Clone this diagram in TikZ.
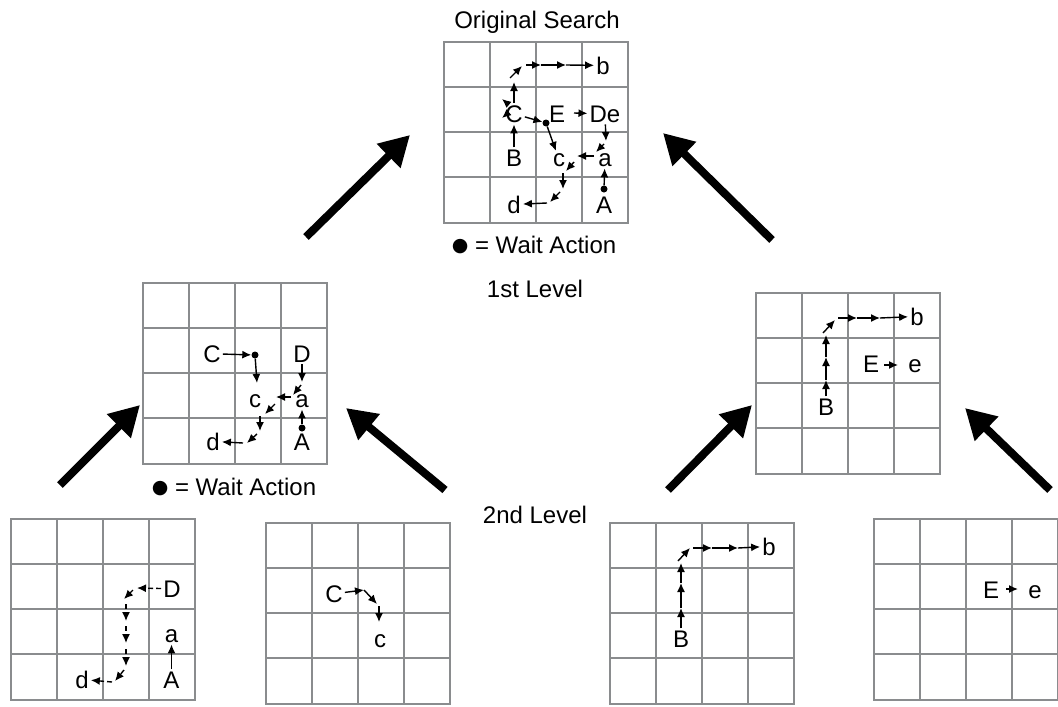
\documentclass[tikz,border=0pt]{standalone}
\usepackage{fontspec}
\setmainfont{Liberation Sans}
\newfontfamily\dotfont{DejaVu Sans}
\usetikzlibrary{arrows.meta}

\begin{document}
\begin{tikzpicture}[x=1pt,y=-1pt]
    \definecolor{grid-color}{HTML}{8A8C8E}
    \tikzstyle{every node}=[font=\fontsize{24}{28}\selectfont, inner sep=2pt]
    \tikzstyle{cell} = [draw=grid-color, line width=2.4pt]
    \tikzstyle{letter} = [anchor=base]
    \tikzstyle{move} = [line width=1.4pt, -{Latex[length=9pt,width=8pt]}]
    \tikzstyle{plan} = [move, dash pattern=on 5pt off 3pt]
    \tikzstyle{wait} = [circle, fill=black, minimum size=7pt, inner sep=0pt]
    \tikzstyle{climb} = [line width=8pt, -{Triangle[length=30pt,width=32pt]}]
    \useasboundingbox (0,0) rectangle (1058,707);

    % the seven 4x4 grids
    \foreach \gx/\gy in {444/42, 143/283, 756/293, 11/519, 266/523, 610/523, 874/519} {
        \draw[cell] (\gx,\gy) rectangle (\gx+184,\gy+181);
        \foreach \k in {1,2,3} {
            \draw[cell] (\gx+46*\k,\gy) -- (\gx+46*\k,\gy+181);
            \draw[cell] (\gx,\gy+45*\k) -- (\gx+184,\gy+45*\k);
        }
    }

    % headings
    \node[letter] (title) at (537,28) {Original Search};
    \node[letter] (twait) at (534,253) {\raisebox{1.5pt}{\dotfont\fontsize{19}{20}\selectfont ●} = Wait Action};
    \node[letter] (first) at (535,297) {1st Level};
    \node[letter] (second) at (535,523) {2nd Level};

    % original search
    \node[letter] (tb) at (603,74) {b};
    \node[letter] (tC) at (514,122) {C};
    \node[letter] (tE) at (557,122) {E};
    \node[letter] (tDe) at (605,122) {De};
    \node[letter] (tB) at (514,166) {B};
    \node[letter] (tc) at (559,166) {c};
    \node[letter] (ta) at (605,166) {a};
    \node[letter] (td) at (514,213) {d};
    \node[letter] (tA) at (604,213) {A};
    \node[wait] (tw1) at (546,123) {};
    \node[wait] (tw2) at (604,189) {};
    \coordinate (t1) at (514,82);
    \coordinate (t2) at (510,78);
    \coordinate (t3) at (522,66);
    \coordinate (t4) at (526,65);
    \coordinate (t5) at (541,65);
    \coordinate (t6) at (566,65);
    \coordinate (t7) at (508,104);
    \coordinate (t8) at (502,99);
    \coordinate (t9) at (508,113);
    \coordinate (t10) at (502,118);
    \coordinate (t11) at (574,113);
    \coordinate (t12) at (606,141);
    \coordinate (t13) at (604,144);
    \coordinate (t14) at (596,152);
    \coordinate (t15) at (594,156);
    \coordinate (t16) at (577,156);
    \coordinate (t17) at (574,162);
    \coordinate (t18) at (566,171);
    \coordinate (t19) at (563,173);
    \coordinate (t20) at (563,189);
    \coordinate (t21) at (560,192);
    \coordinate (t22) at (550,202);
    \coordinate (t23) at (547,203);
    \draw[move] (tB) -- (tC);
    \draw[move] (tC) -- (t1);
    \draw[move] (t2) -- (t3);
    \draw[move] (t4) -- (t5);
    \draw[move] (t5) -- (t6);
    \draw[move] (t6) -- (tb);
    \draw[move] (t7) -- (t8);
    \draw[move] (t9) -- (t10);
    \draw[move] (tC) -- (tw1);
    \draw[move] (tw1) -- (tc);
    \draw[move] (t11) -- (tDe);
    \draw[move] (tDe) -- (t12);
    \draw[move] (t13) -- (t14);
    \draw[move] (t15) -- (t16);
    \draw[move] (t17) -- (t18);
    \draw[move] (t19) -- (t20);
    \draw[move] (t21) -- (t22);
    \draw[move] (t23) -- (td);
    \draw[move] (tw2) -- (ta);

    % 1st level, left
    \node[letter] (mC) at (212,362) {C};
    \node[letter] (mD) at (302,362) {D};
    \node[letter] (mc) at (255,407) {c};
    \node[letter] (ma) at (302,407) {a};
    \node[letter] (md) at (213,450) {d};
    \node[letter] (mA) at (302,450) {A};
    \node[wait] (mw1) at (255,355) {};
    \node[wait] (mw2) at (302,428) {};
    \node[letter] (mwait) at (234,495) {\raisebox{1.5pt}{\dotfont\fontsize{19}{20}\selectfont ●} = Wait Action};
    \coordinate (m1) at (257,383);
    \coordinate (m2) at (302,382);
    \coordinate (m3) at (301,385);
    \coordinate (m4) at (293,395);
    \coordinate (m5) at (291,397);
    \coordinate (m6) at (276,397);
    \coordinate (m7) at (275,404);
    \coordinate (m8) at (265,414);
    \coordinate (m9) at (260,416);
    \coordinate (m10) at (260,431);
    \coordinate (m11) at (257,434);
    \coordinate (m12) at (247,443);
    \coordinate (m13) at (243,443);
    \draw[move] (mC) -- (mw1);
    \draw[move] (mw1) -- (m1);
    \draw[move] (mD) -- (m2);
    \draw[move] (m3) -- (m4);
    \draw[move] (m5) -- (m6);
    \draw[move] (m7) -- (m8);
    \draw[move] (m9) -- (m10);
    \draw[move] (m11) -- (m12);
    \draw[move] (m13) -- (md);
    \draw[move] (mw2) -- (ma);

    % 1st level, right
    \node[letter] (rb) at (917,325) {b};
    \node[letter] (rE) at (871,372) {E};
    \node[letter] (re) at (915,372) {e};
    \node[letter] (rB) at (826,415) {B};
    \coordinate (r1) at (826,380);
    \coordinate (r2) at (826,357);
    \coordinate (r3) at (826,335);
    \coordinate (r4) at (823,333);
    \coordinate (r5) at (835,320);
    \coordinate (r6) at (838,318);
    \coordinate (r7) at (857,318);
    \coordinate (r8) at (880,318);
    \coordinate (r9) at (884,365);
    \coordinate (r10) at (898,365);
    \draw[move] (rB) -- (r1);
    \draw[move] (r1) -- (r2);
    \draw[move] (r2) -- (r3);
    \draw[move] (r4) -- (r5);
    \draw[move] (r6) -- (r7);
    \draw[move] (r7) -- (r8);
    \draw[move] (r8) -- (rb);
    \draw[move] (r9) -- (r10);

    % 2nd level
    \node[letter] (bD) at (172,597) {D};
    \node[letter] (ba) at (171.5,642) {a};
    \node[letter] (bA) at (171.5,688) {A};
    \node[letter] (bd) at (82,688) {d};
    \coordinate (b1) at (137,588);
    \coordinate (b2) at (133,590);
    \coordinate (b3) at (124,599);
    \coordinate (b4) at (126,604);
    \coordinate (b5) at (126,621);
    \coordinate (b6) at (126,626);
    \coordinate (b7) at (126,643);
    \coordinate (b8) at (126,649);
    \coordinate (b9) at (126,666);
    \coordinate (b10) at (124,670);
    \coordinate (b11) at (115,681);
    \coordinate (b12) at (112,682);
    \draw[plan] (bD) -- (b1);
    \draw[plan] (b2) -- (b3);
    \draw[plan] (b4) -- (b5);
    \draw[plan] (b6) -- (b7);
    \draw[plan] (b8) -- (b9);
    \draw[plan] (b10) -- (b11);
    \draw[plan] (b12) -- (bd);
    \draw[move] (bA) -- (ba);

    \node[letter] (cC) at (334,602) {C};
    \node[letter] (cc) at (380,647) {c};
    \coordinate (c1) at (364,590);
    \coordinate (c2) at (377,604);
    \coordinate (c3) at (379,606);
    \coordinate (c4) at (379,622);
    \draw[move] (cC) -- (c1);
    \draw[move] (c1) -- (c2);
    \draw[move] (c3) -- (c4);

    \node[letter] (sb) at (769,555) {b};
    \node[letter] (sB) at (681,647) {B};
    \coordinate (s1) at (681,608);
    \coordinate (s2) at (681,583);
    \coordinate (s3) at (681,563);
    \coordinate (s4) at (678,561);
    \coordinate (s5) at (690,548);
    \coordinate (s6) at (693,548);
    \coordinate (s7) at (712,548);
    \coordinate (s8) at (738,548);
    \draw[move] (sB) -- (s1);
    \draw[move] (s1) -- (s2);
    \draw[move] (s2) -- (s3);
    \draw[move] (s4) -- (s5);
    \draw[move] (s6) -- (s7);
    \draw[move] (s7) -- (s8);
    \draw[move] (s8) -- (sb);

    \node[letter] (eE) at (991,598) {E};
    \node[letter] (ee) at (1035,598) {e};
    \coordinate (e1) at (1006,589);
    \coordinate (e2) at (1018,589);
    \draw[move] (e1) -- (e2);

    % level arrows
    \coordinate (up1) at (306,237);
    \coordinate (top1) at (410,135);
    \coordinate (up2) at (772,240);
    \coordinate (top2) at (663,133);
    \coordinate (up3) at (60,485);
    \coordinate (top3) at (140,405);
    \coordinate (up4) at (445,490);
    \coordinate (top4) at (346,408);
    \coordinate (up5) at (668,490);
    \coordinate (top5) at (752,405);
    \coordinate (up6) at (1050,490);
    \coordinate (top6) at (965,408);
    \draw[climb] (up1) -- (top1);
    \draw[climb] (up2) -- (top2);
    \draw[climb] (up3) -- (top3);
    \draw[climb] (up4) -- (top4);
    \draw[climb] (up5) -- (top5);
    \draw[climb] (up6) -- (top6);
\end{tikzpicture}
\end{document}
